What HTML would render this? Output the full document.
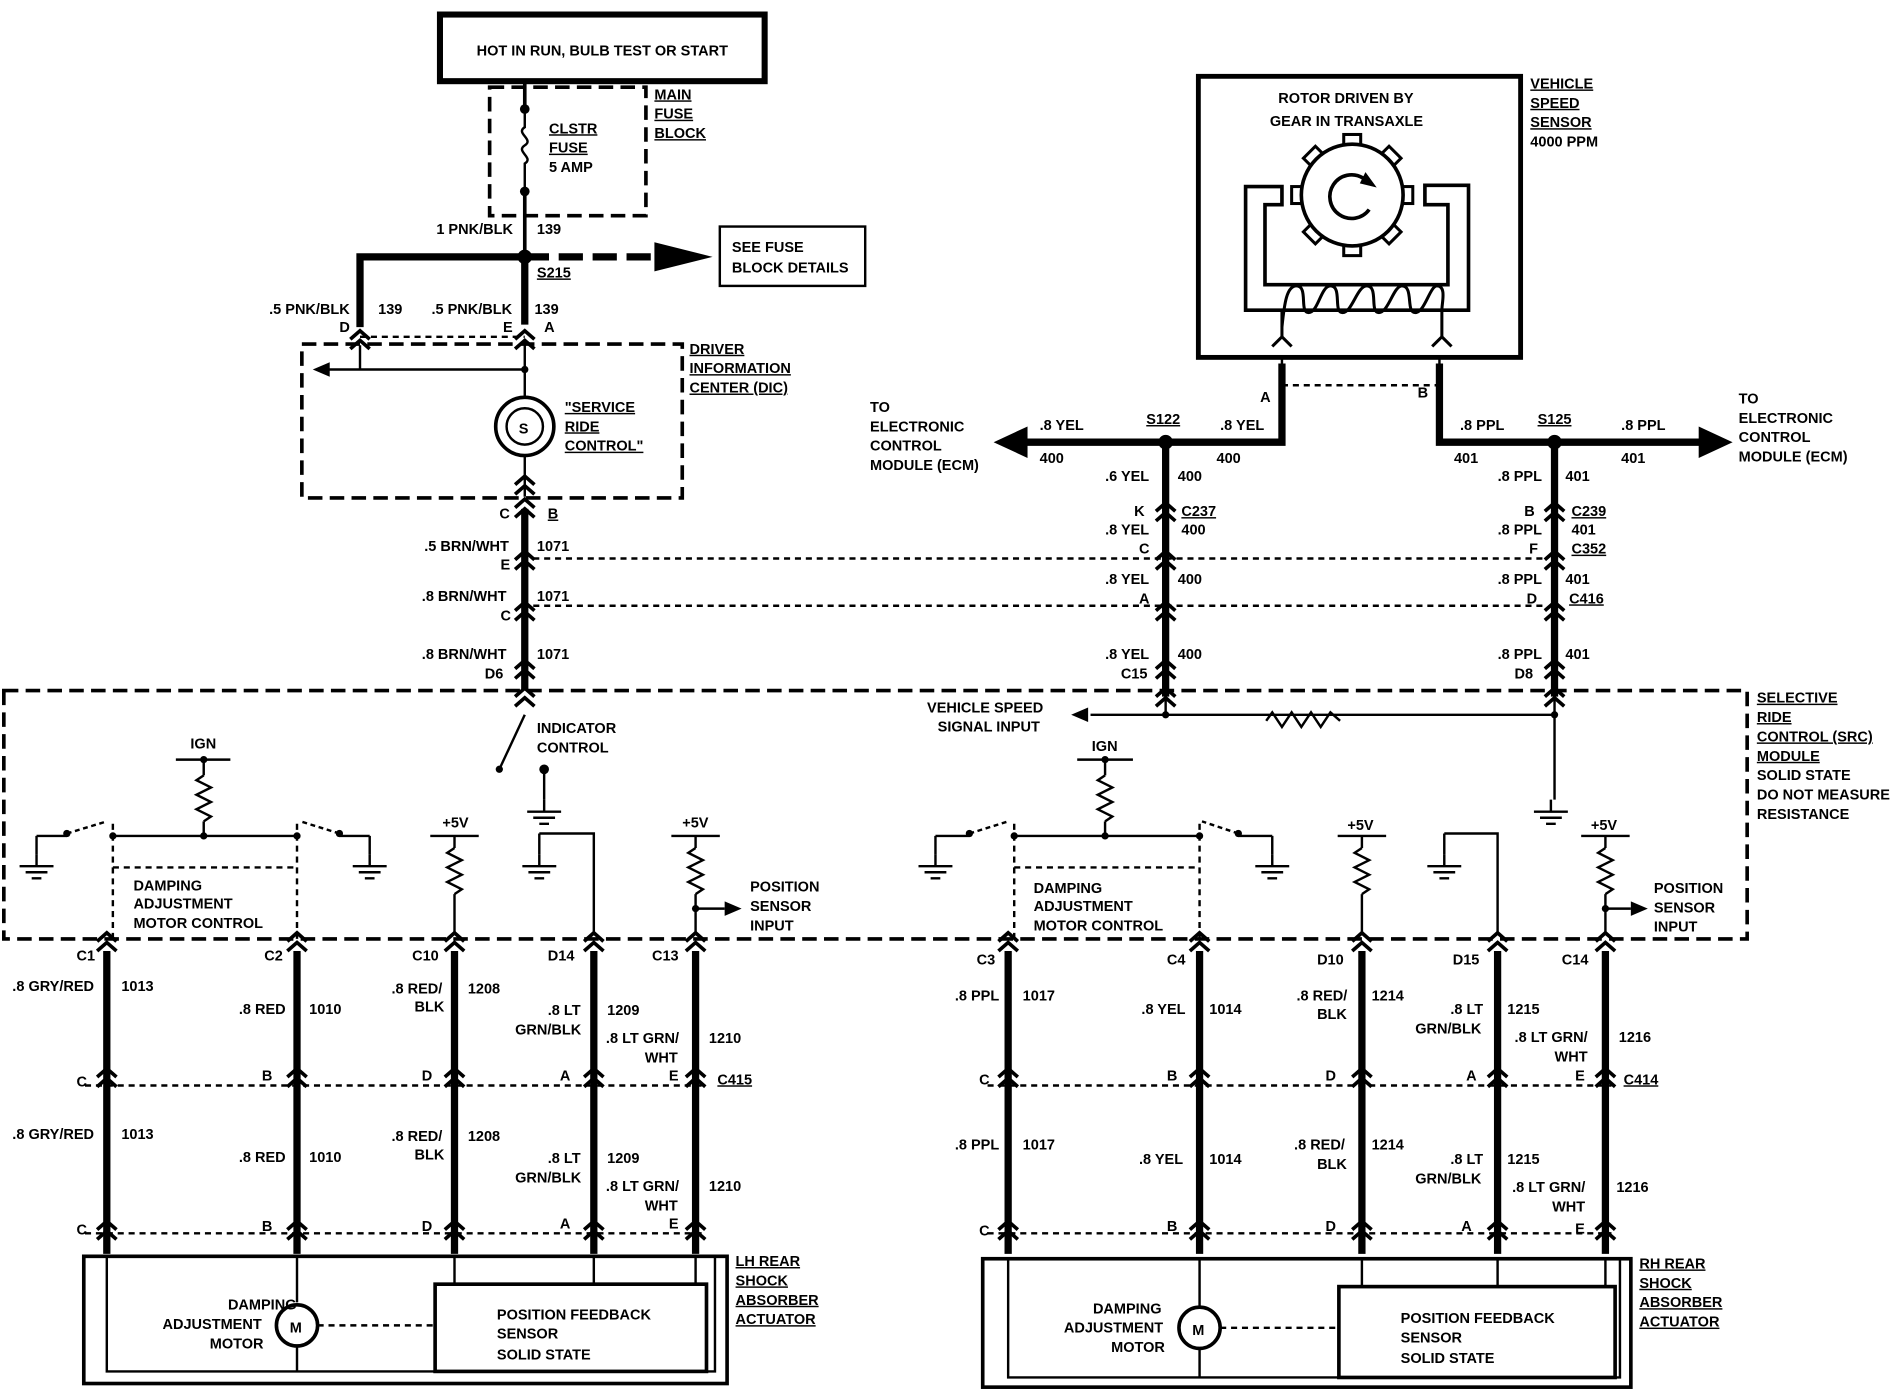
<!DOCTYPE html>
<html><head><meta charset="utf-8"><style>
html,body{margin:0;padding:0;background:#fff}
svg{display:block}
text{font-family:"Liberation Sans",Arial,sans-serif;font-weight:bold;font-size:12px;fill:#000}
.u{text-decoration:underline}
</style></head><body>
<svg width="1900" height="1392" viewBox="0 0 1568 1149" xmlns="http://www.w3.org/2000/svg">
<defs>
<g id="cn"><path d="M-8,-3 L0,-10 L8,-3 M-8,5 L0,-2 L8,5" fill="none" stroke="#000" stroke-width="3"/></g>
<g id="gnd"><path d="M0,0 V10 M-14,10 H14 M-9,15 H9 M-4,20 H4" stroke="#000" stroke-width="2" fill="none"/></g>
<g id="res"><path d="M0,0 L-6,4 L6,10 L-6,16 L6,22 L-6,28 L6,34 L0,38" stroke="#000" stroke-width="2" fill="none"/></g>
<rect id="tooth" x="-7" y="-50" width="14" height="10" stroke="#000" stroke-width="2.5" fill="#fff"/>
</defs>
<g fill="none" stroke="#000">
<rect x="363" y="12" width="268" height="55" stroke-width="5"/>
<rect x="404" y="72" width="129" height="106" stroke-width="3" stroke-dasharray="12,6"/>
<path d="M433,68 V88 M433,158 V212" stroke-width="3"/>
<path d="M433,90 V105 C425,110 441,115 433,120 C425,125 441,130 433,135 V158" stroke-width="2"/>
<path d="M297,270 V212 H433 V268" stroke-width="6"/>
<path d="M433,212 H540" stroke-width="6" stroke-dasharray="20,8"/>
<path d="M297,278 H433" stroke-width="2" stroke-dasharray="5,4"/>
<rect x="594" y="187" width="120" height="49" stroke-width="2"/>
<rect x="249" y="284" width="314" height="127" stroke-width="3" stroke-dasharray="12,6"/>
<path d="M297,285 V305 M433,285 V328 M270,305 H433" stroke-width="2"/>
<circle cx="433" cy="352" r="24" stroke-width="3"/>
<circle cx="433" cy="352" r="15" stroke-width="2"/>
<path d="M433,376 V410" stroke-width="2"/>
<path d="M433,420 V570" stroke-width="6"/>
<path d="M440,461 H1276 M440,500 H1276" stroke-width="2" stroke-dasharray="5,4"/>
<!-- VSS -->
<rect x="989" y="63" width="266" height="232" stroke-width="4"/>
<path d="M1058,296 V318 M1188,296 V318 M1058,318 H1188" stroke-width="2" stroke-dasharray="5,4"/>
<g transform="translate(1116,161)">
<use href="#tooth" transform="rotate(0)"/><use href="#tooth" transform="rotate(45)"/><use href="#tooth" transform="rotate(90)"/><use href="#tooth" transform="rotate(135)"/>
<use href="#tooth" transform="rotate(180)"/><use href="#tooth" transform="rotate(225)"/><use href="#tooth" transform="rotate(270)"/><use href="#tooth" transform="rotate(315)"/>
<circle r="42" stroke-width="3" fill="#fff"/>
<path d="M9,-14 A18,18 0 1 0 14,12" stroke-width="3"/>
</g>
<polygon points="1127,143 1135,154 1123,151" fill="#000" stroke-width="1"/>
<path d="M1028,154 H1058 V169 H1044 V235 H1195 V169 H1176 V153 H1212 V256 H1028 Z" stroke-width="3"/>
<path d="M1058,270 C1060,250 1062,236 1070,236 C1080,236 1072,258 1080,258 C1088,258 1090,236 1098,236 C1108,236 1100,258 1108,258 C1116,258 1120,236 1128,236 C1138,236 1130,258 1138,258 C1146,258 1150,236 1157,236 C1167,236 1160,258 1168,258 C1176,258 1180,236 1186,236 C1194,236 1190,250 1190,256" stroke-width="2.5"/>
<path d="M1058,256 V278 M1190,256 V278 M1050,286 L1058,278 L1066,286 M1182,286 L1190,278 L1198,286" stroke-width="2.5"/>
<path d="M1058,300 V365 H845 M1188,300 V365 H1405" stroke-width="6"/>
<path d="M962,365 V575 M1283,365 V575" stroke-width="6"/>
<rect x="3" y="570" width="1439" height="205" stroke-width="3" stroke-dasharray="12,6"/>
<path d="M1283,575 V660 M1283,590 H900 M962,575 V590" stroke-width="2"/>
<path d="M1045,595 L1050,588 L1058,600 L1066,588 L1074,600 L1082,588 L1090,600 L1098,588 L1106,595" stroke-width="2"/>
<path d="M433,590 L412,635" stroke-width="2"/>
<path d="M449,635 V660" stroke-width="2"/>
<path d="M168,627 V640 M168,678 V690 M93,690 H245 M30,690 H55 M280,690 H305 M305,690 V705 M30,690 V705" stroke-width="2"/>
<path d="M55,688 L88,678 M280,688 L248,678" stroke-width="2" stroke-dasharray="4,3"/>
<path d="M93,680 V775 M245,680 V775 M93,716 H245" stroke-width="2" stroke-dasharray="5,4"/>
<path d="M375,690 V700 M375,738 V770 M445,688 H490 V770 M574,690 V700 M574,738 V770 M574,750 H598" stroke-width="2"/>
<path d="M145,627 H190 M355,690 H395 M554,690 H594" stroke-width="2"/>
<path d="M445,688 V705" stroke-width="2"/>
<path d="M912,627 V640 M912,678 V690 M837,690 H990 M772,690 H800 M1022,690 H1050 M1050,690 V705 M772,690 V705" stroke-width="2"/>
<path d="M800,688 L832,678 M1022,688 L992,678" stroke-width="2" stroke-dasharray="4,3"/>
<path d="M837,680 V775 M990,680 V775 M837,716 H990" stroke-width="2" stroke-dasharray="5,4"/>
<path d="M1124,690 V700 M1124,738 V770 M1192,688 H1236 V770 M1325,690 V700 M1325,738 V770 M1325,750 H1346" stroke-width="2"/>
<path d="M889,627 H935 M1104,690 H1144 M1305,690 H1345 M1192,688 V705" stroke-width="2"/>
<path d="M88,785 V1035 M245,785 V1035 M375,785 V1035 M490,785 V1035 M574,785 V1035 M832,785 V1035 M990,785 V1035 M1124,785 V1035 M1236,785 V1035 M1325,785 V1035" stroke-width="6"/>
<path d="M70,896 H580 M70,1018 H580 M815,896 H1330 M815,1018 H1330" stroke-width="2" stroke-dasharray="5,4"/>
<rect x="69" y="1037" width="531" height="105" stroke-width="3"/>
<path d="M88,1037 V1132 H590 V1037" stroke-width="2"/>
<rect x="359" y="1060" width="224" height="72" stroke-width="3"/>
<path d="M375,1037 V1060 M490,1037 V1060 M574,1037 V1060 M245,1037 V1075 M245,1112 V1132" stroke-width="2"/>
<circle cx="245" cy="1094" r="17" stroke-width="3"/>
<path d="M262,1094 H359" stroke-width="2" stroke-dasharray="5,4"/>
<rect x="811" y="1039" width="535" height="106" stroke-width="3"/>
<path d="M832,1039 V1137 H1337 V1039" stroke-width="2"/>
<rect x="1105" y="1062" width="228" height="75" stroke-width="3"/>
<path d="M1124,1039 V1062 M1236,1039 V1062 M1325,1039 V1062 M990,1039 V1078 M990,1114 V1137" stroke-width="2"/>
<circle cx="990" cy="1096" r="17" stroke-width="3"/>
<path d="M1007,1096 H1105" stroke-width="2" stroke-dasharray="5,4"/>
</g>
<g fill="#000">
<polygon points="540,200 588,212 540,224"/>
<polygon points="820,365 848,352 848,378"/>
<polygon points="1430,365 1402,352 1402,378"/>
<polygon points="258,305 272,299 272,311"/>
<polygon points="884,590 898,584 898,596"/>
<polygon points="612,750 598,744 598,756"/>
<polygon points="1360,750 1346,744 1346,756"/>
<circle cx="433" cy="90" r="4"/><circle cx="433" cy="158" r="4"/>
<circle cx="433" cy="212" r="6"/><circle cx="962" cy="365" r="6"/><circle cx="1283" cy="365" r="6"/>
<circle cx="962" cy="590" r="3"/><circle cx="1283" cy="590" r="3"/><circle cx="433" cy="305" r="3"/>
<circle cx="168" cy="627" r="3"/><circle cx="912" cy="627" r="3"/><circle cx="449" cy="635" r="4"/>
<circle cx="412" cy="635" r="3"/><circle cx="168" cy="690" r="3"/><circle cx="912" cy="690" r="3"/>
<circle cx="93" cy="690" r="3"/><circle cx="245" cy="690" r="3"/><circle cx="837" cy="690" r="3"/><circle cx="990" cy="690" r="3"/>
<circle cx="574" cy="750" r="3"/><circle cx="1325" cy="750" r="3"/>
<circle cx="55" cy="688" r="3"/><circle cx="280" cy="688" r="3"/><circle cx="800" cy="688" r="3"/><circle cx="1022" cy="688" r="3"/>
</g>
<use href="#res" x="168" y="640"/><use href="#res" x="912" y="640"/>
<use href="#res" x="375" y="700"/><use href="#res" x="574" y="700"/>
<use href="#res" x="1124" y="700"/><use href="#res" x="1325" y="700"/>
<use href="#gnd" x="449" y="660"/><use href="#gnd" x="1280" y="660"/>
<use href="#gnd" x="30" y="705"/><use href="#gnd" x="305" y="705"/><use href="#gnd" x="445" y="705"/>
<use href="#gnd" x="772" y="705"/><use href="#gnd" x="1050" y="705"/><use href="#gnd" x="1192" y="705"/>
<use href="#cn" x="297" y="283"/><use href="#cn" x="433" y="283"/><use href="#cn" x="433" y="403"/>
<use href="#cn" x="433" y="422"/><use href="#cn" x="433" y="465"/><use href="#cn" x="433" y="507"/><use href="#cn" x="433" y="555"/><use href="#cn" x="433" y="578"/>
<use href="#cn" x="962" y="425"/><use href="#cn" x="962" y="465"/><use href="#cn" x="962" y="507"/><use href="#cn" x="962" y="555"/><use href="#cn" x="962" y="578"/>
<use href="#cn" x="1283" y="425"/><use href="#cn" x="1283" y="465"/><use href="#cn" x="1283" y="507"/><use href="#cn" x="1283" y="555"/><use href="#cn" x="1283" y="578"/>
<g>
<use href="#cn" x="88" y="780"/><use href="#cn" x="245" y="780"/><use href="#cn" x="375" y="780"/><use href="#cn" x="490" y="780"/><use href="#cn" x="574" y="780"/>
<use href="#cn" x="832" y="780"/><use href="#cn" x="990" y="780"/><use href="#cn" x="1124" y="780"/><use href="#cn" x="1236" y="780"/><use href="#cn" x="1325" y="780"/>
<use href="#cn" x="88" y="892"/><use href="#cn" x="245" y="892"/><use href="#cn" x="375" y="892"/><use href="#cn" x="490" y="892"/><use href="#cn" x="574" y="892"/>
<use href="#cn" x="832" y="892"/><use href="#cn" x="990" y="892"/><use href="#cn" x="1124" y="892"/><use href="#cn" x="1236" y="892"/><use href="#cn" x="1325" y="892"/>
<use href="#cn" x="88" y="1018"/><use href="#cn" x="245" y="1018"/><use href="#cn" x="375" y="1018"/><use href="#cn" x="490" y="1018"/><use href="#cn" x="574" y="1018"/>
<use href="#cn" x="832" y="1018"/><use href="#cn" x="990" y="1018"/><use href="#cn" x="1124" y="1018"/><use href="#cn" x="1236" y="1018"/><use href="#cn" x="1325" y="1018"/>
</g>
<text x="428" y="358" font-size="14">S</text>
<text x="239" y="1100" font-size="13">M</text>
<text x="984" y="1102" font-size="13">M</text>
<text x="497" y="46" text-anchor="middle">HOT IN RUN, BULB TEST OR START</text>
<text x="453" y="110" class="u">CLSTR</text><text x="453" y="126" class="u">FUSE</text><text x="453" y="142">5 AMP</text>
<text x="540" y="82" class="u">MAIN</text><text x="540" y="98" class="u">FUSE</text><text x="540" y="114" class="u">BLOCK</text>
<text x="360" y="193">1 PNK/BLK</text><text x="443" y="193">139</text><text x="443" y="229" class="u">S215</text>
<text x="604" y="208">SEE FUSE</text><text x="604" y="225">BLOCK DETAILS</text>
<text x="222" y="259">.5 PNK/BLK</text><text x="312" y="259">139</text><text x="356" y="259">.5 PNK/BLK</text><text x="441" y="259">139</text>
<text x="280" y="274">D</text><text x="415" y="274">E</text><text x="449" y="274">A</text>
<text x="569" y="292" class="u">DRIVER</text><text x="569" y="308" class="u">INFORMATION</text><text x="569" y="324" class="u">CENTER (DIC)</text>
<text x="466" y="340" class="u">"SERVICE</text><text x="466" y="356" class="u">RIDE</text><text x="466" y="372" class="u">CONTROL"</text>
<text x="412" y="428">C</text><text x="452" y="428" class="u">B</text>
<text x="350" y="455">.5 BRN/WHT</text><text x="443" y="455">1071</text><text x="413" y="470">E</text>
<text x="348" y="496">.8 BRN/WHT</text><text x="443" y="496">1071</text><text x="413" y="512">C</text>
<text x="348" y="544">.8 BRN/WHT</text><text x="443" y="544">1071</text><text x="400" y="560">D6</text>
<text x="1055" y="85">ROTOR DRIVEN BY</text><text x="1048" y="104">GEAR IN TRANSAXLE</text>
<text x="1263" y="73" class="u">VEHICLE</text><text x="1263" y="89" class="u">SPEED</text><text x="1263" y="105" class="u">SENSOR</text><text x="1263" y="121">4000 PPM</text>
<text x="1040" y="332">A</text><text x="1170" y="328">B</text>
<text x="718" y="340">TO</text><text x="718" y="356">ELECTRONIC</text><text x="718" y="372">CONTROL</text><text x="718" y="388">MODULE (ECM)</text>
<text x="858" y="355">.8 YEL</text><text x="858" y="382">400</text><text x="946" y="350" class="u">S122</text><text x="1007" y="355">.8 YEL</text><text x="1004" y="382">400</text>
<text x="1205" y="355">.8 PPL</text><text x="1200" y="382">401</text><text x="1269" y="350" class="u">S125</text><text x="1338" y="355">.8 PPL</text><text x="1338" y="382">401</text>
<text x="1435" y="333">TO</text><text x="1435" y="349">ELECTRONIC</text><text x="1435" y="365">CONTROL</text><text x="1435" y="381">MODULE (ECM)</text>
<text x="912" y="397">.6 YEL</text><text x="972" y="397">400</text><text x="1236" y="397">.8 PPL</text><text x="1292" y="397">401</text>
<text x="936" y="426">K</text><text x="975" y="426" class="u">C237</text><text x="1258" y="426">B</text><text x="1297" y="426" class="u">C239</text>
<text x="912" y="441">.8 YEL</text><text x="975" y="441">400</text><text x="1236" y="441">.8 PPL</text><text x="1297" y="441">401</text>
<text x="940" y="457">C</text><text x="1262" y="457">F</text><text x="1297" y="457" class="u">C352</text>
<text x="912" y="482">.8 YEL</text><text x="972" y="482">400</text><text x="1236" y="482">.8 PPL</text><text x="1292" y="482">401</text>
<text x="940" y="498">A</text><text x="1260" y="498">D</text><text x="1295" y="498" class="u">C416</text>
<text x="912" y="544">.8 YEL</text><text x="972" y="544">400</text><text x="1236" y="544">.8 PPL</text><text x="1292" y="544">401</text>
<text x="925" y="560">C15</text><text x="1250" y="560">D8</text>
<text x="1450" y="580" class="u">SELECTIVE</text><text x="1450" y="596" class="u">RIDE</text><text x="1450" y="612" class="u">CONTROL (SRC)</text><text x="1450" y="628" class="u">MODULE</text>
<text x="1450" y="644">SOLID STATE</text><text x="1450" y="660">DO NOT MEASURE</text><text x="1450" y="676">RESISTANCE</text>
<text x="813" y="588" text-anchor="middle">VEHICLE SPEED</text><text x="816" y="604" text-anchor="middle">SIGNAL INPUT</text>
<text x="443" y="605">INDICATOR</text><text x="443" y="621">CONTROL</text>
<text x="157" y="618">IGN</text><text x="901" y="620">IGN</text>
<text x="365" y="683">+5V</text><text x="563" y="683">+5V</text><text x="1112" y="685">+5V</text><text x="1313" y="685">+5V</text>
<text x="110" y="735">DAMPING</text><text x="110" y="750">ADJUSTMENT</text><text x="110" y="766">MOTOR CONTROL</text>
<text x="853" y="737">DAMPING</text><text x="853" y="752">ADJUSTMENT</text><text x="853" y="768">MOTOR CONTROL</text>
<text x="619" y="736">POSITION</text><text x="619" y="752">SENSOR</text><text x="619" y="768">INPUT</text>
<text x="1365" y="737">POSITION</text><text x="1365" y="753">SENSOR</text><text x="1365" y="769">INPUT</text>
<text x="63" y="793">C1</text><text x="218" y="793">C2</text><text x="340" y="793">C10</text><text x="452" y="793">D14</text><text x="538" y="793">C13</text>
<text x="10" y="818">.8 GRY/RED</text><text x="100" y="818">1013</text>
<text x="197" y="837">.8 RED</text><text x="255" y="837">1010</text>
<text x="323" y="820">.8 RED/</text><text x="342" y="835">BLK</text><text x="386" y="820">1208</text>
<text x="452" y="838">.8 LT</text><text x="425" y="854">GRN/BLK</text><text x="501" y="838">1209</text>
<text x="500" y="861">.8 LT GRN/</text><text x="532" y="877">WHT</text><text x="585" y="861">1210</text>
<text x="63" y="897">C</text><text x="216" y="892">B</text><text x="348" y="892">D</text><text x="462" y="892">A</text><text x="552" y="892">E</text><text x="592" y="895" class="u">C415</text>
<text x="10" y="940">.8 GRY/RED</text><text x="100" y="940">1013</text>
<text x="197" y="959">.8 RED</text><text x="255" y="959">1010</text>
<text x="323" y="942">.8 RED/</text><text x="342" y="957">BLK</text><text x="386" y="942">1208</text>
<text x="452" y="960">.8 LT</text><text x="425" y="976">GRN/BLK</text><text x="501" y="960">1209</text>
<text x="500" y="983">.8 LT GRN/</text><text x="532" y="999">WHT</text><text x="585" y="983">1210</text>
<text x="63" y="1019">C</text><text x="216" y="1016">B</text><text x="348" y="1016">D</text><text x="462" y="1014">A</text><text x="552" y="1014">E</text>
<text x="607" y="1045" class="u">LH REAR</text><text x="607" y="1061" class="u">SHOCK</text><text x="607" y="1077" class="u">ABSORBER</text><text x="607" y="1093" class="u">ACTUATOR</text>
<text x="188" y="1081">DAMPING</text><text x="134" y="1097">ADJUSTMENT</text><text x="173" y="1113">MOTOR</text>
<text x="410" y="1089">POSITION FEEDBACK</text><text x="410" y="1105">SENSOR</text><text x="410" y="1122">SOLID STATE</text>
<text x="806" y="796">C3</text><text x="963" y="796">C4</text><text x="1087" y="796">D10</text><text x="1199" y="796">D15</text><text x="1289" y="796">C14</text>
<text x="788" y="826">.8 PPL</text><text x="844" y="826">1017</text>
<text x="942" y="837">.8 YEL</text><text x="998" y="837">1014</text>
<text x="1070" y="826">.8 RED/</text><text x="1087" y="841">BLK</text><text x="1132" y="826">1214</text>
<text x="1197" y="837">.8 LT</text><text x="1168" y="853">GRN/BLK</text><text x="1244" y="837">1215</text>
<text x="1250" y="860">.8 LT GRN/</text><text x="1283" y="876">WHT</text><text x="1336" y="860">1216</text>
<text x="808" y="895">C</text><text x="963" y="892">B</text><text x="1094" y="892">D</text><text x="1210" y="892">A</text><text x="1300" y="892">E</text><text x="1340" y="895" class="u">C414</text>
<text x="788" y="949">.8 PPL</text><text x="844" y="949">1017</text>
<text x="940" y="961">.8 YEL</text><text x="998" y="961">1014</text>
<text x="1068" y="949">.8 RED/</text><text x="1087" y="965">BLK</text><text x="1132" y="949">1214</text>
<text x="1197" y="961">.8 LT</text><text x="1168" y="977">GRN/BLK</text><text x="1244" y="961">1215</text>
<text x="1248" y="984">.8 LT GRN/</text><text x="1281" y="1000">WHT</text><text x="1334" y="984">1216</text>
<text x="808" y="1020">C</text><text x="963" y="1016">B</text><text x="1094" y="1016">D</text><text x="1206" y="1016">A</text><text x="1300" y="1018">E</text>
<text x="1353" y="1047" class="u">RH REAR</text><text x="1353" y="1063" class="u">SHOCK</text><text x="1353" y="1079" class="u">ABSORBER</text><text x="1353" y="1095" class="u">ACTUATOR</text>
<text x="902" y="1084">DAMPING</text><text x="878" y="1100">ADJUSTMENT</text><text x="917" y="1116">MOTOR</text>
<text x="1156" y="1092">POSITION FEEDBACK</text><text x="1156" y="1108">SENSOR</text><text x="1156" y="1125">SOLID STATE</text>
</svg>
</body></html>
